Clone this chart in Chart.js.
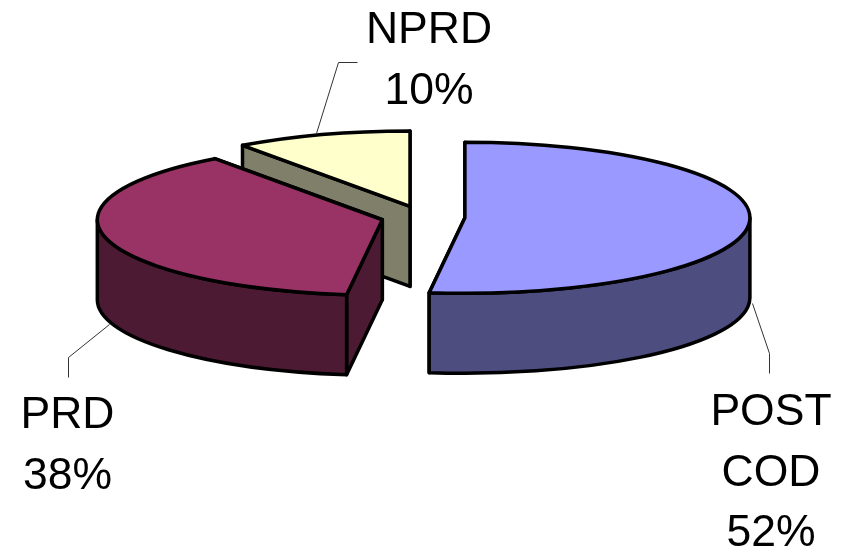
<!DOCTYPE html>
<html>
<head>
<meta charset="utf-8">
<title>Share by phase</title>
<style>
	html, body { margin: 0; padding: 0; background: #ffffff; }
	canvas { display: block; }
</style>
<script src="https://cdn.jsdelivr.net/npm/chart.js@4/dist/chart.umd.js"></script>
</head>
<body>
<canvas id="pie" width="846" height="551"></canvas>
<script>
// chart data
var categories = ['POST COD', 'PRD', 'NPRD']
var shares = [52, 38, 10]

// slice colours
var topColors = ['#9999ff', '#993366', '#ffffcc']
var wallColors = ['#4d4d80', '#4d1a33', '#80806a']

// pie geometry in px, the pie is flattened by squash and pulled apart by explode
var radius = 285
var centerY = 217
var squash = 0.265
var depth = 80
var explode = 42

// label placement: text centre, first baseline, leader polyline
var labelX = [771, 67.5, 429]
var labelY = [425, 428, 43]
var leaders = [
	[[752, 303], [769, 353], [769, 373]],
	[[109, 324], [68, 357], [68, 377]],
	[[316, 133], [338, 62], [357, 62]]
]
var labelFont = '44.5px "Liberation Sans", Arial, sans-serif'
var lineHeight = 60.5

function overlap(start, end)
{
	// part of the rim on the near side, canvas angles 0..PI
	var from = Math.max(start, 0)
	var to = Math.min(end, Math.PI)
	return to > from ? [from, to] : null
}

function drawFace(ctx, arc, offsetX, offsetY, wall)
{
	var x = arc.x + offsetX
	var y = centerY + offsetY
	var ry = radius * squash

	function rimX(a) { return x + Math.cos(a) * radius }
	function rimY(a) { return y + Math.sin(a) * ry }

	ctx.fillStyle = wall
	// the two cut faces go first, the rim covers whatever is behind it
	;[arc.endAngle, arc.startAngle].forEach(function(a)
	{
		ctx.beginPath()
		ctx.moveTo(x, y)
		ctx.lineTo(rimX(a), rimY(a))
		ctx.lineTo(rimX(a), rimY(a) + depth)
		ctx.lineTo(x, y + depth)
		ctx.closePath()
		ctx.fill()
		ctx.stroke()
	})

	var near = overlap(arc.startAngle, arc.endAngle)
	if(near)
	{
		ctx.beginPath()
		ctx.ellipse(x, y, radius, ry, 0, near[0], near[1])
		ctx.ellipse(x, y + depth, radius, ry, 0, near[1], near[0], true)
		ctx.closePath()
		ctx.fill()
		ctx.stroke()
	}

	// top of the slice, the library fills the arc inside the flattened space
	ctx.save()
	ctx.translate(x, y)
	ctx.scale(1, squash)
	ctx.translate(-arc.x, -arc.y)
	arc.draw(ctx)
	ctx.restore()

	ctx.beginPath()
	ctx.moveTo(x, y)
	ctx.ellipse(x, y, radius, ry, 0, arc.startAngle, arc.endAngle)
	ctx.closePath()
	ctx.stroke()
}

var pie3d = {
	id: 'pie3d',
	beforeDatasetDraw: function(chart)
	{
		var ctx = chart.ctx
		var arcs = chart.getDatasetMeta(0).data

		ctx.save()
		ctx.strokeStyle = '#000000'
		ctx.lineWidth = 3.5
		ctx.lineJoin = 'round'
		// back slice first
		for(var i = arcs.length - 1; i >= 0; i--)
		{
			var mid = (arcs[i].startAngle + arcs[i].endAngle) / 2
			drawFace(ctx, arcs[i], Math.cos(mid) * explode, Math.sin(mid) * explode * squash, wallColors[i])
		}
		ctx.restore()
		return false
	},
	afterDraw: function(chart)
	{
		var ctx = chart.ctx
		ctx.save()
		ctx.strokeStyle = '#333333'
		ctx.lineWidth = 1
		leaders.forEach(function(line)
		{
			ctx.beginPath()
			line.forEach(function(p, n)
			{
				if(n == 0)
					ctx.moveTo(p[0] + 0.5, p[1] + 0.5)
				else
					ctx.lineTo(p[0] + 0.5, p[1] + 0.5)
			})
			ctx.stroke()
		})

		ctx.fillStyle = '#000000'
		ctx.font = labelFont
		ctx.textAlign = 'center'
		ctx.textBaseline = 'alphabetic'
		for(var i = 0; i < categories.length; i++)
		{
			var lines = categories[i].split(' ')
			lines.push(shares[i] + '%')
			for(var n = 0; n < lines.length; n++)
				ctx.fillText(lines[n], labelX[i], labelY[i] + n * lineHeight)
		}
		ctx.restore()
	}
}

var myChart = new Chart(document.getElementById('pie'), {
	type: 'pie',
	data: {
		labels: categories,
		datasets: [{
			data: shares,
			backgroundColor: topColors,
			borderWidth: 0
		}]
	},
	options: {
		responsive: false,
		animation: false,
		radius: radius,
		layout: { padding: 0 },
		plugins: {
			legend: { display: false },
			tooltip: { enabled: false }
		}
	},
	plugins: [pie3d]
})
</script>
</body>
</html>
